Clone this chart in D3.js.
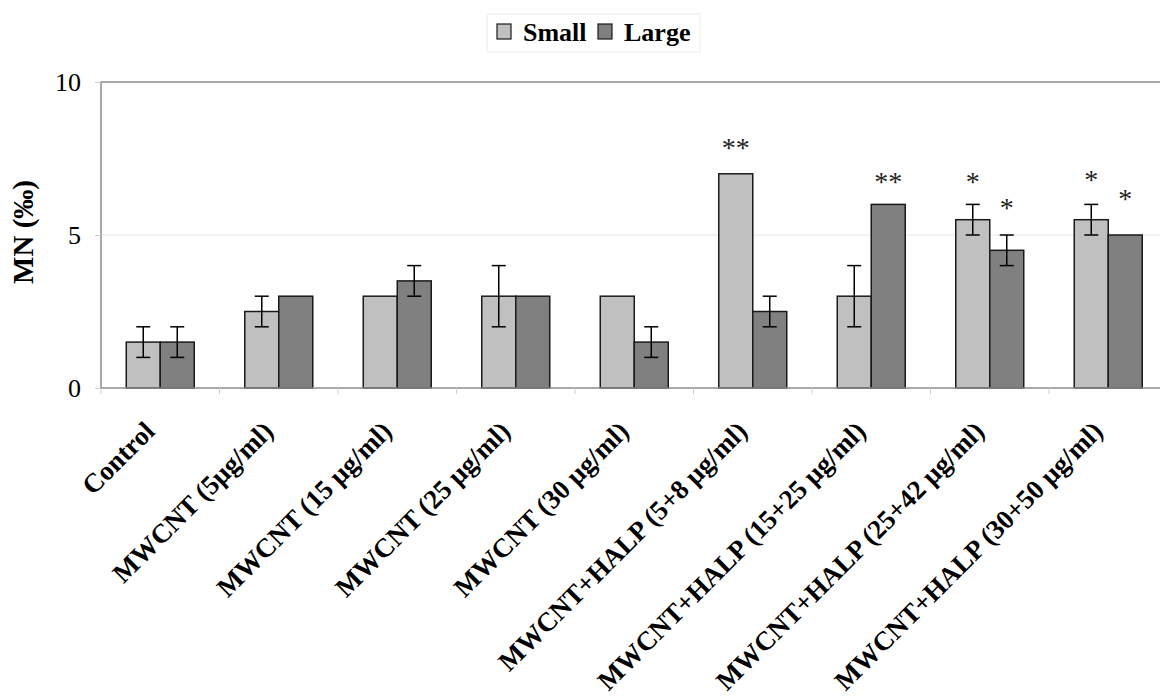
<!DOCTYPE html>
<html>
<head>
<meta charset="utf-8">
<script src="https://cdn.jsdelivr.net/npm/d3@7"></script>
<style>
  body { margin: 0; background: #fff; }
  svg { display: block; font-family: "Liberation Serif", "Times New Roman", serif; }
</style>
</head>
<body>
<div id="chart"></div>
<script>
// data
var categories = ["Control", "MWCNT (5µg/ml)", "MWCNT (15 µg/ml)", "MWCNT (25 µg/ml)", "MWCNT (30 µg/ml)",
  "MWCNT+HALP (5+8 µg/ml)", "MWCNT+HALP (15+25 µg/ml)", "MWCNT+HALP (25+42 µg/ml)", "MWCNT+HALP (30+50 µg/ml)"];
var seriesNames = ["Small", "Large"];
var smallValues = [1.5, 2.5, 3, 3, 3, 7, 3, 5.5, 5.5];
var smallErrors = [0.5, 0.5, 0, 1, 0, 0, 1, 0.5, 0.5];
var largeValues = [1.5, 3, 3.5, 3, 1.5, 2.5, 6, 4.5, 5];
var largeErrors = [0.5, 0, 0.5, 0, 0.5, 0.5, 0, 0.5, 0];
// significance marks and the level (in MN units) they sit at
var smallMarks = ["", "", "", "", "", "**", "", "*", "*"];
var smallMarkLevel = [0, 0, 0, 0, 0, 8.0, 0, 6.9, 6.95];
var largeMarks = ["", "", "", "", "", "", "**", "*", "*"];
var largeMarkLevel = [0, 0, 0, 0, 0, 0, 6.9, 6.05, 6.35];
var yTicks = [0, 5, 10];

var W = 1160, H = 699;
var plot = {left: 101, top: 82, right: 1167.5, bottom: 388};
var colors = {Small: "#c0c0c0", Large: "#808080"};
var serif = "Liberation Serif, Times New Roman, serif";

var svg = d3.select("#chart").append("svg")
    .attr("width", W)
    .attr("height", H);

var x = d3.scaleBand()
    .domain(categories)
    .range([plot.left, plot.right])
    .padding(0);

var x1 = d3.scaleBand()
    .domain(seriesNames)
    .range([0, x.bandwidth()])
    .paddingInner(0)
    .paddingOuter(0.743);

var y = d3.scaleLinear()
    .domain([0, 10])
    .range([plot.bottom, plot.top]);

var rows = categories.map(function(c, i) {
    return {
        cat: c,
        bars: [
            {s: "Small", v: smallValues[i], e: smallErrors[i], mark: smallMarks[i], lvl: smallMarkLevel[i]},
            {s: "Large", v: largeValues[i], e: largeErrors[i], mark: largeMarks[i], lvl: largeMarkLevel[i]}
        ]
    };
});

// grid line at 5
svg.append("g")
    .selectAll("line")
    .data(yTicks.filter(function(t) { return t > 0 && t < 10; }))
    .enter().append("line")
    .attr("x1", plot.left).attr("x2", plot.right)
    .attr("y1", function(d) { return y(d); })
    .attr("y2", function(d) { return y(d); })
    .attr("stroke", "#e6e6e6")
    .attr("stroke-width", 1);

// plot frame (top and left)
svg.append("path")
    .attr("d", "M" + plot.right + "," + y(10) + "H" + plot.left + "V" + y(0))
    .attr("fill", "none")
    .attr("stroke", "#8c8c8c")
    .attr("stroke-width", 1.5);

// y axis
var yAxis = svg.append("g")
    .attr("transform", "translate(" + plot.left + ",0)")
    .call(d3.axisLeft(y).tickValues(yTicks).tickSize(6).tickPadding(14));
yAxis.select(".domain").remove();
yAxis.selectAll(".tick line").attr("stroke", "#cfcfcf");
yAxis.selectAll(".tick text")
    .attr("font-family", serif)
    .attr("font-size", 26)
    .attr("fill", "#000");

svg.append("text")
    .attr("transform", "translate(33," + (y(5) - 3) + ") rotate(-90)")
    .attr("text-anchor", "middle")
    .attr("font-family", serif)
    .attr("font-weight", "bold")
    .attr("font-size", 29)
    .text("MN (‰)");

// bars
var groups = svg.append("g")
    .selectAll("g")
    .data(rows)
    .enter().append("g")
    .attr("transform", function(d) { return "translate(" + x(d.cat) + ",0)"; });

groups.selectAll("rect")
    .data(function(d) { return d.bars; })
    .enter().append("rect")
    .attr("x", function(d) { return x1(d.s); })
    .attr("width", x1.bandwidth())
    .attr("y", function(d) { return y(d.v); })
    .attr("height", function(d) { return y(0) - y(d.v); })
    .attr("fill", function(d) { return colors[d.s]; })
    .attr("stroke", "#1a1a1a")
    .attr("stroke-width", 1.5);

// error bars
var eb = groups.selectAll("g.err")
    .data(function(d) { return d.bars.filter(function(b) { return b.e > 0; }); })
    .enter().append("g")
    .attr("class", "err")
    .attr("stroke", "#000")
    .attr("stroke-width", 1.5);
eb.append("line")
    .attr("x1", function(d) { return x1(d.s) + x1.bandwidth() / 2; })
    .attr("x2", function(d) { return x1(d.s) + x1.bandwidth() / 2; })
    .attr("y1", function(d) { return y(d.v - d.e); })
    .attr("y2", function(d) { return y(d.v + d.e); });
[-1, 1].forEach(function(sign) {
    eb.append("line")
        .attr("x1", function(d) { return x1(d.s) + x1.bandwidth() / 2 - 7; })
        .attr("x2", function(d) { return x1(d.s) + x1.bandwidth() / 2 + 7; })
        .attr("y1", function(d) { return y(d.v + sign * d.e); })
        .attr("y2", function(d) { return y(d.v + sign * d.e); });
});

// significance stars
groups.selectAll("text.mark")
    .data(function(d) { return d.bars.filter(function(b) { return b.mark; }); })
    .enter().append("text")
    .attr("class", "mark")
    .attr("x", function(d) { return x1(d.s) + x1.bandwidth() / 2; })
    .attr("y", function(d) { return y(d.lvl) + 14; })
    .attr("text-anchor", "middle")
    .attr("font-family", serif)
    .attr("font-size", 28)
    .attr("fill", "#222")
    .text(function(d) { return d.mark; });

// x axis line and boundary ticks
svg.append("line")
    .attr("x1", plot.left).attr("x2", plot.right)
    .attr("y1", y(0)).attr("y2", y(0))
    .attr("stroke", "#8c8c8c")
    .attr("stroke-width", 1.5);
svg.append("g")
    .selectAll("line")
    .data(categories)
    .enter().append("line")
    .attr("x1", function(d) { return x(d); })
    .attr("x2", function(d) { return x(d); })
    .attr("y1", y(0)).attr("y2", y(0) + 6)
    .attr("stroke", "#cfcfcf");

svg.append("g")
    .selectAll("text")
    .data(categories)
    .enter().append("text")
    .attr("transform", function(d) {
        return "translate(" + (x(d) + x.bandwidth() / 2 - 4) + "," + (y(0) + 45) + ") rotate(-45)";
    })
    .attr("text-anchor", "end")
    .attr("font-family", serif)
    .attr("font-weight", "bold")
    .attr("font-size", 27)
    .text(function(d) { return d; });

// legend
var legend = svg.append("g");
legend.append("rect")
    .attr("x", 487).attr("y", 14)
    .attr("width", 213).attr("height", 38)
    .attr("fill", "#fff")
    .attr("stroke", "#ececec");
var li = legend.selectAll("g")
    .data(seriesNames)
    .enter().append("g")
    .attr("transform", function(d, i) { return "translate(" + (497 + i * 101) + ",0)"; });
li.append("rect")
    .attr("x", 0).attr("y", 24)
    .attr("width", 14).attr("height", 15)
    .attr("fill", function(d) { return colors[d]; })
    .attr("stroke", "#1a1a1a")
    .attr("stroke-width", 1.2);
li.append("text")
    .attr("x", 26).attr("y", 41)
    .attr("font-family", serif)
    .attr("font-weight", "bold")
    .attr("font-size", 26)
    .text(function(d) { return d; });
</script>
</body>
</html>
